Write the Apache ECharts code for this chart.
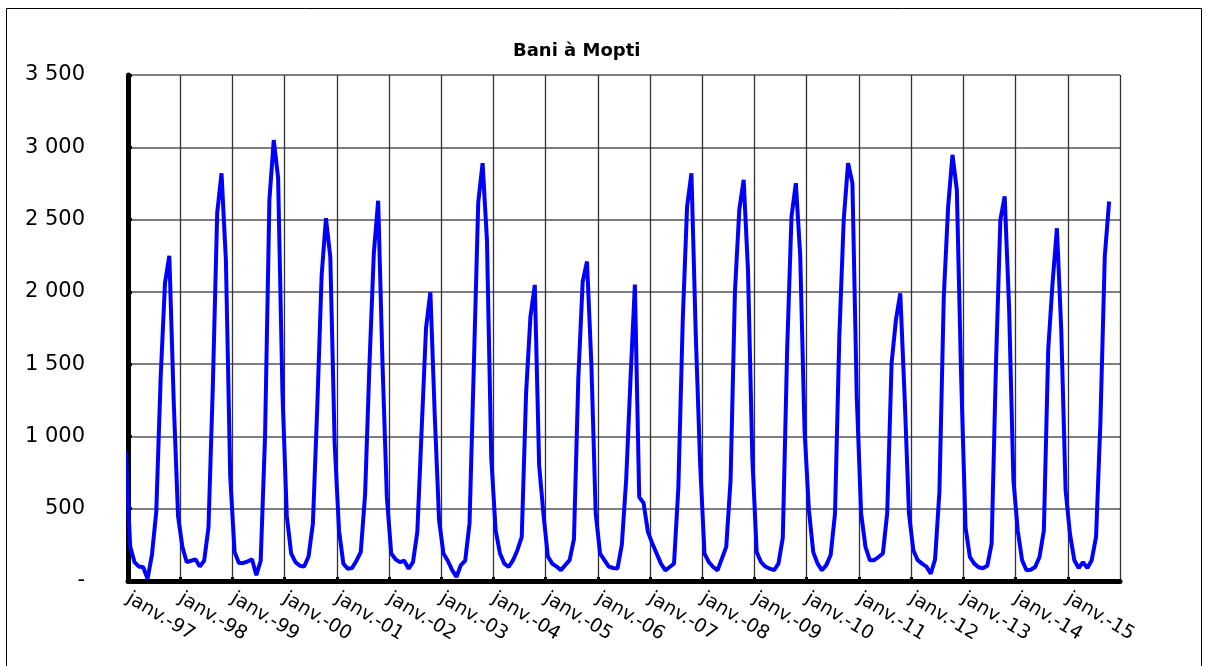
<!DOCTYPE html>
<html>
<head>
<meta charset="utf-8">
<script src="https://cdn.jsdelivr.net/npm/echarts@6/dist/echarts.min.js"></script>
<style>
  html, body { margin: 0; padding: 0; background: #fff; }
  #chart { width: 1206px; height: 666px; }
</style>
</head>
<body>
<div id="chart"></div>
<script>
// débit mensuel (m3/s), janv. 1997 -> oct. 2015, plus le point de déc. 1996
const startValue = 900 // déc. 96, coupé par l'axe
const y1997 = [240, 130, 100, 95, 15, 180, 480, 1400, 2060, 2250, 1250, 450]
const y1998 = [236, 130, 140, 150, 100, 140, 370, 1350, 2545, 2820, 2220, 720]
const y1999 = [200, 125, 125, 135, 150, 40, 140, 1000, 2636, 3050, 2790, 1300]
const y2000 = [450, 190, 130, 105, 100, 170, 400, 1200, 2110, 2510, 2240, 950]
const y2001 = [350, 120, 85, 90, 140, 200, 600, 1500, 2267, 2630, 1500, 580]
const y2002 = [190, 150, 130, 140, 85, 130, 340, 1050, 1750, 1997, 1150, 420]
const y2003 = [190, 140, 75, 28, 110, 140, 400, 1500, 2620, 2890, 2360, 850]
const y2004 = [351, 190, 120, 97, 144, 213, 305, 1300, 1830, 2048, 800, 460]
const y2005 = [170, 120, 100, 75, 110, 144, 290, 1400, 2070, 2210, 1500, 467]
const y2006 = [190, 145, 100, 90, 86, 250, 700, 1400, 2050, 580, 540, 340]
const y2007 = [260, 190, 120, 74, 97, 120, 650, 1800, 2590, 2820, 1700, 812]
const y2008 = [190, 130, 97, 74, 155, 236, 700, 2000, 2567, 2775, 2150, 850]
const y2009 = [200, 130, 100, 85, 75, 120, 300, 1600, 2521, 2752, 2250, 1043]
const y2010 = [490, 200, 120, 74, 110, 180, 467, 1700, 2498, 2890, 2752, 1274]
const y2011 = [467, 236, 144, 144, 166, 190, 470, 1505, 1805, 1990, 1274, 467]
const y2012 = [213, 144, 120, 100, 50, 150, 620, 1966, 2590, 2948, 2706, 1400]
const y2013 = [370, 166, 120, 95, 88, 105, 259, 1505, 2498, 2660, 1900, 700]
const y2014 = [349, 144, 74, 78, 97, 166, 349, 1600, 2060, 2440, 1736, 627]
const y2015 = [326, 144, 90, 130, 90, 144, 305, 1100, 2244, 2625]

const yearLabels = ['97', '98', '99', '00', '01', '02', '03', '04', '05', '06',
  '07', '08', '09', '10', '11', '12', '13', '14', '15']
const yTicks = [0, 500, 1000, 1500, 2000, 2500, 3000, 3500]

const monthly = [].concat(y1997, y1998, y1999, y2000, y2001, y2002, y2003, y2004,
  y2005, y2006, y2007, y2008, y2009, y2010, y2011, y2012, y2013, y2014, y2015)

// points au milieu du mois (axe en mois depuis janv. 97)
let points = [[-0.5, startValue]]
monthly.forEach((v, i) => points.push([i + 0.5, v]))

let myChart = echarts.init(document.getElementById('chart'))

let option = {
    animation: false,
    backgroundColor: '#fff',
    textStyle: { fontFamily: 'DejaVu Sans, sans-serif' },
    title: {
        text: 'Bani à Mopti',
        left: 508,
        top: 37,
        textStyle: { fontSize: 18, fontWeight: 'bold', color: '#000', fontFamily: 'DejaVu Sans' }
    },
    graphic: [{
        type: 'rect',
        shape: { x: 6.5, y: 8.5, width: 1195, height: 700 },
        style: { fill: null, stroke: '#000', lineWidth: 1 },
        silent: true
    }],
    grid: {
        left: 128,
        right: 86,
        top: 75,
        bottom: 85,
        containLabel: false
    },
    xAxis: {
        type: 'value',
        min: 0,
        max: 228,
        interval: 12,
        axisLine: { show: true, onZero: false, lineStyle: { color: '#000', width: 5 } },
        axisTick: { show: true, inside: true, length: 4, lineStyle: { color: '#000', width: 3 } },
        splitLine: { show: true, lineStyle: { color: '#333', width: 1.3 } },
        axisLabel: {
            rotate: -31,
            margin: 16,
            fontSize: 19,
            color: '#000',
            fontFamily: 'DejaVu Sans',
            showMaxLabel: false,
            formatter: function (v) {
                let k = Math.round(v / 12)
                return k < yearLabels.length ? 'janv.-' + yearLabels[k] : ''
            }
        }
    },
    yAxis: {
        type: 'value',
        min: yTicks[0],
        max: yTicks[yTicks.length - 1],
        interval: 500,
        axisLine: { show: true, lineStyle: { color: '#000', width: 5 } },
        axisTick: { show: true, inside: true, length: 4, lineStyle: { color: '#000', width: 3 } },
        splitLine: { show: true, lineStyle: { color: '#555', width: 1.5 } },
        axisLabel: {
            margin: 43,
            fontSize: 21,
            color: '#000',
            fontFamily: 'DejaVu Sans',
            formatter: function (v) {
                if (v === 0) return '-'
                return String(v).replace(/\B(?=(\d{3})+(?!\d))/g, ' ')
            }
        }
    },
    series: [{
        type: 'line',
        data: points,
        showSymbol: false,
        clip: true,
        lineStyle: { color: '#0000ff', width: 4 },
        z: 3
    }]
}

myChart.setOption(option)
</script>
</body>
</html>
